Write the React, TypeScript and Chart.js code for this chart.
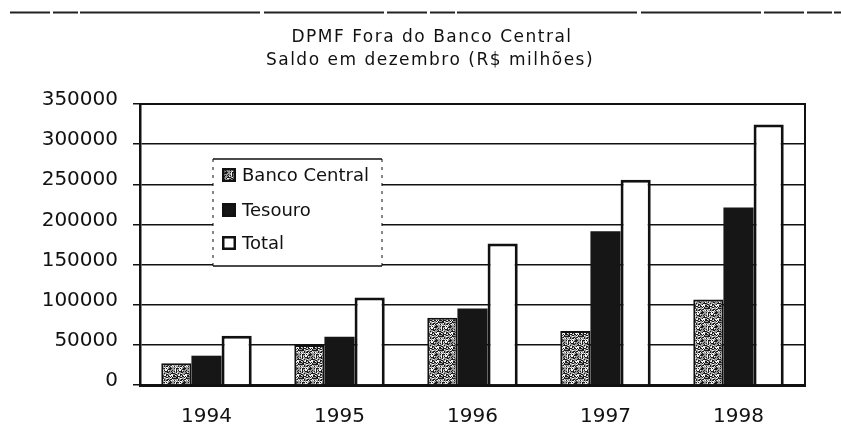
import React, { useEffect, useRef } from "react";
import { Chart, registerables } from "chart.js";

Chart.register(...registerables);

const titleLines = ["DPMF Fora do Banco Central", "Saldo em dezembro (R$ milhões)"];
const categories = ["1994", "1995", "1996", "1997", "1998"];
const bancoCentral = [27000, 49700, 83700, 67200, 106600];
const tesouro = [36500, 60000, 95400, 191500, 221000];
const total = [61300, 109000, 176200, 255800, 324600];
const seriesLabels = ["Banco Central", "Tesouro", "Total"];
const yTicks = [0, 50000, 100000, 150000, 200000, 250000, 300000, 350000];

function makeStipple(): CanvasPattern | string {
  const n = 14;
  const c = document.createElement("canvas");
  c.width = n;
  c.height = n;
  const g = c.getContext("2d");
  if (!g) return "#888";
  g.fillStyle = "#9a9a9a";
  g.fillRect(0, 0, n, n);
  for (let y = 0; y < n; y++) {
    for (let x = 0; x < n; x++) {
      const h = ((x * 11 + y * 17) ^ (x * y * 7 + 5)) % 10;
      if (h < 4) {
        g.fillStyle = "#1a1a1a";
        g.fillRect(x, y, 1, 1);
      } else if (h > 7) {
        g.fillStyle = "#f4f4f4";
        g.fillRect(x, y, 1, 1);
      }
    }
  }
  const p = g.createPattern(c, "repeat");
  return p || "#888";
}

export default function App() {
  const ref = useRef<HTMLCanvasElement | null>(null);

  useEffect(() => {
    if (!ref.current) return;
    const stipple = makeStipple();

    const decor = {
      id: "decor",
      beforeDraw(chart: any) {
        const ctx = chart.ctx;
        ctx.save();
        ctx.fillStyle = "#ffffff";
        ctx.fillRect(0, 0, chart.width, chart.height);
        // scanned page rule at top
        ctx.strokeStyle = "#222";
        ctx.lineWidth = 2;
        ctx.setLineDash([40, 3, 25, 2, 180, 4, 120, 3]);
        ctx.beginPath();
        ctx.moveTo(10, 12.5);
        ctx.lineTo(841, 12.5);
        ctx.stroke();
        ctx.setLineDash([]);
        // title
        ctx.fillStyle = "#111";
        ctx.font = "17px 'DejaVu Sans'";
        ctx.textAlign = "center";
        ctx.textBaseline = "alphabetic";
        try {
          (ctx as any).letterSpacing = "1.5px";
        } catch (e) {}
        ctx.fillText(titleLines[0], 432, 42);
        ctx.fillText(titleLines[1], 430, 65);
        ctx.restore();
      },
      afterDraw(chart: any) {
        const ctx = chart.ctx;
        const a = chart.chartArea;
        ctx.save();
        ctx.strokeStyle = "#111";
        ctx.lineWidth = 2;
        ctx.beginPath();
        ctx.moveTo(a.left, a.top);
        ctx.lineTo(a.right, a.top);
        ctx.lineTo(a.right, a.bottom);
        ctx.stroke();

        // legend box
        const bx = 213, by = 159, bw = 169, bh = 107;
        ctx.fillStyle = "#ffffff";
        ctx.fillRect(bx, by, bw, bh);
        ctx.lineWidth = 1.5;
        ctx.beginPath();
        ctx.moveTo(bx, by);
        ctx.lineTo(bx + bw, by);
        ctx.moveTo(bx, by + bh);
        ctx.lineTo(bx + bw, by + bh);
        ctx.stroke();
        ctx.lineWidth = 1;
        ctx.setLineDash([3, 5]);
        ctx.beginPath();
        ctx.moveTo(bx, by);
        ctx.lineTo(bx, by + bh);
        ctx.moveTo(bx + bw, by);
        ctx.lineTo(bx + bw, by + bh);
        ctx.stroke();
        ctx.setLineDash([]);

        const ys = [175, 210, 243];
        const ds = chart.data.datasets;
        ctx.font = "18px 'DejaVu Sans'";
        ctx.textAlign = "left";
        ctx.textBaseline = "middle";
        ds.forEach((d: any, i: number) => {
          const mx = 222, my = ys[i] - 7, ms = 14;
          ctx.fillStyle = d.backgroundColor;
          ctx.fillRect(mx, my, ms, ms);
          ctx.strokeStyle = "#111";
          ctx.lineWidth = 2.5;
          ctx.strokeRect(mx + 1.25, my + 1.25, ms - 2.5, ms - 2.5);
          ctx.fillStyle = "#111";
          ctx.fillText(d.label, 242, ys[i] + 1);
        });
        ctx.restore();
      },
    };

    const chart = new Chart(ref.current, {
      type: "bar",
      data: {
        labels: categories,
        datasets: [
          {
            label: seriesLabels[0],
            data: bancoCentral,
            backgroundColor: stipple as any,
            borderColor: "#111",
            borderWidth: 2,
            borderSkipped: "bottom",
          },
          {
            label: seriesLabels[1],
            data: tesouro,
            backgroundColor: "#161616",
            borderColor: "#111",
            borderWidth: 0,
          },
          {
            label: seriesLabels[2],
            data: total,
            backgroundColor: "#ffffff",
            borderColor: "#111",
            borderWidth: 3,
            borderSkipped: "bottom",
          },
        ],
      },
      options: {
        responsive: false,
        animation: false,
        events: [],
        layout: { padding: { left: 0, right: 36, top: 104, bottom: 0 } },
        datasets: {
          bar: { categoryPercentage: 0.68, barPercentage: 1.0 },
        },
        plugins: {
          legend: { display: false },
          title: { display: false },
          tooltip: { enabled: false },
        },
        scales: {
          x: {
            grid: { display: false, drawTicks: false },
            border: { display: true, color: "#111", width: 3 },
            ticks: {
              color: "#111",
              font: { family: "'DejaVu Sans'", size: 20 },
              padding: 20,
            },
            afterFit(scale: any) {
              scale.height = 54;
            },
          },
          y: {
            min: 0,
            max: 350000,
            afterBuildTicks(scale: any) {
              scale.ticks = yTicks.map((v) => ({ value: v }));
            },
            grid: {
              color: "#111",
              lineWidth: 1.5,
              tickLength: 7,
              drawTicks: true,
            },
            border: { display: true, color: "#111", width: 2.5 },
            ticks: {
              color: "#111",
              font: { family: "'DejaVu Sans'", size: 20 },
              padding: 15,
              labelOffset: -4,
              callback: (v: any) => String(v),
            },
            afterFit(scale: any) {
              scale.width = 140;
            },
          },
        },
      },
      plugins: [decor],
    });
    return () => chart.destroy();
  }, []);

  return (
    <div style={{ position: "absolute", left: 0, top: 0, width: 841, height: 439 }}>
      <canvas ref={ref} width={841} height={439} style={{ display: "block" }} />
    </div>
  );
}
